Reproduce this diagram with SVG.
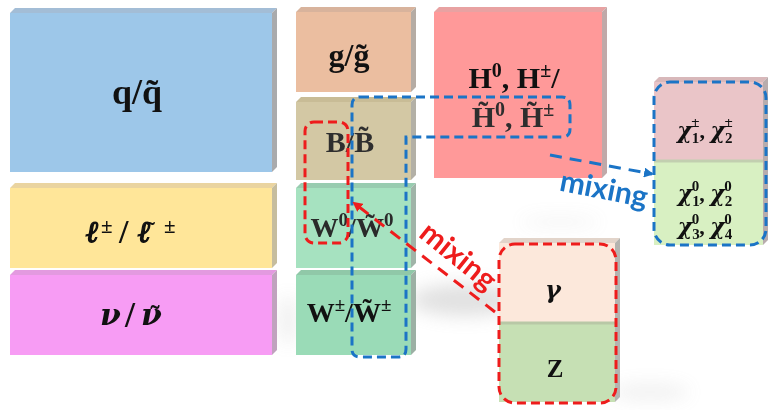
<svg xmlns="http://www.w3.org/2000/svg" width="768" height="410" viewBox="0 0 768 410">
<defs>
<filter id="blur" x="-50%" y="-50%" width="200%" height="200%"><feGaussianBlur stdDeviation="9"/></filter>
<marker id="ahB" markerWidth="10" markerHeight="10" refX="8" refY="5" orient="auto" markerUnits="userSpaceOnUse"><path d="M0,0 L10,5 L0,10 Z" fill="#1b74c6"/></marker>
<marker id="ahR" markerWidth="10" markerHeight="10" refX="8" refY="5" orient="auto" markerUnits="userSpaceOnUse"><path d="M0,0 L10,5 L0,10 Z" fill="#ee1c1c"/></marker>
</defs>
<style>
.lbl{font-family:"Liberation Serif","DejaVu Serif",serif;font-weight:bold;fill:#111;text-anchor:middle}
.gk{font-family:"DejaVu Serif",serif;font-weight:bold;font-style:italic}
.ell{stroke:#111;stroke-width:1.3}
.tl{font-family:"DejaVu Serif",serif;font-weight:bold}
.st{text-anchor:start}
.sd{fill:#a9aaac}
.bd{fill:none;stroke:#1b74c6;stroke-width:3;stroke-dasharray:9 5}
.rd{fill:none;stroke:#ee1c1c;stroke-width:3;stroke-dasharray:9 5}
.mix{font-family:Lato,"Liberation Sans",sans-serif;font-weight:bold;font-size:30px;text-anchor:middle}
</style>
<rect width="768" height="410" fill="#fff"/>
<g id="shadows" filter="url(#blur)" fill="#9a9a9a" opacity="0.3">
<ellipse cx="465" cy="300" rx="55" ry="16"/>
<ellipse cx="560" cy="222" rx="40" ry="5" opacity="0.4"/>
<ellipse cx="650" cy="392" rx="40" ry="8" opacity="0.5"/>
<ellipse cx="288" cy="320" rx="8" ry="25" opacity="0.6"/>
</g>

<g id="node-q">
<polygon points="10,13 15,8 277,8 272,13" fill="#a3bdd6"/>
<polygon points="272,13 277,8 277,167 272,172" class="sd"/>
<rect x="10" y="13" width="262" height="159" fill="#9dc7e9"/>
<text class="lbl" x="137" y="104" font-size="36">q/q̃</text>
</g>
<g id="node-l">
<polygon points="10,188 15,183 277,183 272,188" fill="#ead4a0"/>
<polygon points="272,188 277,183 277,263 272,268" fill="#c6bd9e"/>
<rect x="10" y="188" width="262" height="80" fill="#ffe699"/>
<text class="lbl st gk ell" x="86" y="242" font-size="30">ℓ</text>
<text class="lbl st" x="101" y="233" font-size="21">±</text>
<text class="lbl st" x="119" y="243" font-size="34">/</text>
<text class="lbl st gk ell" x="138" y="242" font-size="30">ℓ</text>
<text class="lbl tl" x="151" y="239" font-size="22">˜</text>
<text class="lbl st" x="164" y="233" font-size="21">±</text>
</g>
<g id="node-nu">
<polygon points="10,275 15,270 277,270 272,275" fill="#e39ae0"/>
<polygon points="272,275 277,270 277,350 272,355" fill="#c0a2be"/>
<rect x="10" y="275" width="262" height="80" fill="#f79cf4"/>
<text class="lbl st gk" x="100" y="325" font-size="30">ν</text>
<text class="lbl st" x="125" y="327" font-size="36">/</text>
<text class="lbl st gk" x="141" y="325" font-size="30">ν</text>
<text class="lbl tl" x="155" y="326" font-size="26">˜</text>
</g>

<g id="node-g">
<polygon points="296,12 301,7 416,7 411,12" fill="#d8b39c"/>
<polygon points="411,12 416,7 416,87 411,92" fill="#b5aca4"/>
<rect x="296" y="12" width="115" height="80" fill="#ebbea0"/>
<text class="lbl" x="349" y="66" font-size="32">g/g̃</text>
</g>
<g id="node-B">
<polygon points="296,102 301,97 416,97 411,102" fill="#c8bc96"/>
<polygon points="411,102 416,97 416,175 411,180" fill="#b3b0a6"/>
<rect x="296" y="102" width="115" height="78" fill="#d3c8a4"/>
<text class="lbl" x="350" y="152" font-size="30" style="fill:#2e2e2e">B/B̃</text>
</g>
<g id="node-W0">
<polygon points="296,188 301,183 416,183 411,188" fill="#98ccb0"/>
<polygon points="411,188 416,183 416,263 411,268" fill="#a0b4a8"/>
<rect x="296" y="188" width="115" height="80" fill="#a6e2c0"/>
<text class="lbl" x="352" y="237" font-size="28" style="fill:#2a2a2a">W<tspan dy="-11" font-size="19">0</tspan><tspan dy="11">/W̃</tspan><tspan dy="-11" font-size="19">0</tspan></text>
</g>
<g id="node-Wpm">
<polygon points="296,275 301,270 416,270 411,275" fill="#90c8a8"/>
<polygon points="411,275 416,270 416,350 411,355" fill="#9cb0a4"/>
<rect x="296" y="275" width="115" height="80" fill="#9adbb7"/>
<text class="lbl" x="349" y="322" font-size="28">W<tspan dy="-11" font-size="19">±</tspan><tspan dy="11">/W̃</tspan><tspan dy="-11" font-size="19">±</tspan></text>
</g>

<g id="node-H">
<polygon points="434,12 439,7 607,7 602,12" fill="#e8a2a2"/>
<polygon points="602,12 607,7 607,173 602,178" fill="#c0a9a9"/>
<rect x="434" y="12" width="168" height="166" fill="#ff9999"/>
<text class="lbl" x="514" y="88" font-size="30">H<tspan dy="-11" font-size="20">0</tspan><tspan dy="11">, H</tspan><tspan dy="-11" font-size="20">±</tspan><tspan dy="11">/</tspan></text>
<text class="lbl" x="513" y="127" font-size="30" style="fill:#2e2e2e">H̃<tspan dy="-11" font-size="20">0</tspan><tspan dy="11">, H̃</tspan><tspan dy="-11" font-size="20">±</tspan></text>
</g>

<g id="node-chi">
<polygon points="654,82 659,77 768,77 763,82" fill="#d8b8ba"/>
<polygon points="763,82 768,77 768,240 763,245" fill="#b8acad"/>
<rect x="654" y="82" width="109" height="78" fill="#eac5c8"/>
<rect x="654" y="160" width="109" height="85" fill="#d8f0c2"/>
<line x1="654" y1="161" x2="763" y2="161" stroke="#c2cfb0" stroke-width="3"/>
<text class="lbl" x="705" y="138" font-size="22"><tspan class="gk">χ</tspan><tspan dy="5" font-size="15">1</tspan><tspan dx="-8" dy="-16" font-size="15">±</tspan><tspan dy="11">, </tspan><tspan class="gk">χ</tspan><tspan dy="5" font-size="15">2</tspan><tspan dx="-8" dy="-16" font-size="15">±</tspan></text>
<text class="lbl" x="705" y="201" font-size="22"><tspan class="gk">χ</tspan><tspan dy="5" font-size="15">1</tspan><tspan dx="-8" dy="-15" font-size="15">0</tspan><tspan dy="10">, </tspan><tspan class="gk">χ</tspan><tspan dy="5" font-size="15">2</tspan><tspan dx="-8" dy="-15" font-size="15">0</tspan></text>
<text class="lbl" x="705" y="234" font-size="22"><tspan class="gk">χ</tspan><tspan dy="5" font-size="15">3</tspan><tspan dx="-8" dy="-15" font-size="15">0</tspan><tspan dy="10">, </tspan><tspan class="gk">χ</tspan><tspan dy="5" font-size="15">4</tspan><tspan dx="-8" dy="-15" font-size="15">0</tspan></text>
</g>

<g id="node-gammaZ">
<polygon points="499,243 504,238 620,238 615,243" fill="#e2d4ca"/>
<polygon points="615,243 620,238 620,397 615,402" fill="#b4b4b0"/>
<rect x="499" y="243" width="116" height="79" fill="#fce8db"/>
<rect x="499" y="322" width="116" height="80" fill="#c6e0b4"/>
<line x1="499" y1="323" x2="615" y2="323" stroke="#b8c8a6" stroke-width="3"/>
<text class="lbl gk" x="553" y="298" font-size="24">γ</text>
<text class="lbl" x="555" y="377" font-size="25">Z</text>
</g>

<g id="group-outlines">
<path d="M360 97 H562 Q570 97 570 105 V129 Q570 137 562 137 H406 V349 Q406 357 398 357 H360 Q352 357 352 349 V105 Q352 97 360 97 Z" fill="#fff" fill-opacity="0.2" class="bd"/>
<rect x="305" y="122" width="43" height="121" rx="9" fill="#fff" fill-opacity="0.15" class="rd"/>
<rect x="499" y="244" width="117" height="159" rx="16" class="rd"/>
<rect x="654" y="82" width="112" height="163" rx="16" class="bd"/>
</g>

<g id="connectors">
<line x1="550" y1="155" x2="652" y2="174" stroke="#1b74c6" stroke-width="3" stroke-dasharray="12 8" marker-end="url(#ahB)"/>
<line x1="495" y1="312" x2="354" y2="203" stroke="#ee1c1c" stroke-width="3" stroke-dasharray="12 8" marker-end="url(#ahR)"/>
<text class="mix" fill="#1b74c6" transform="translate(602,199) rotate(11)">mixing</text>
<text class="mix" fill="#ee1c1c" transform="translate(452,264) rotate(39)">mixing</text>
</g>
</svg>
